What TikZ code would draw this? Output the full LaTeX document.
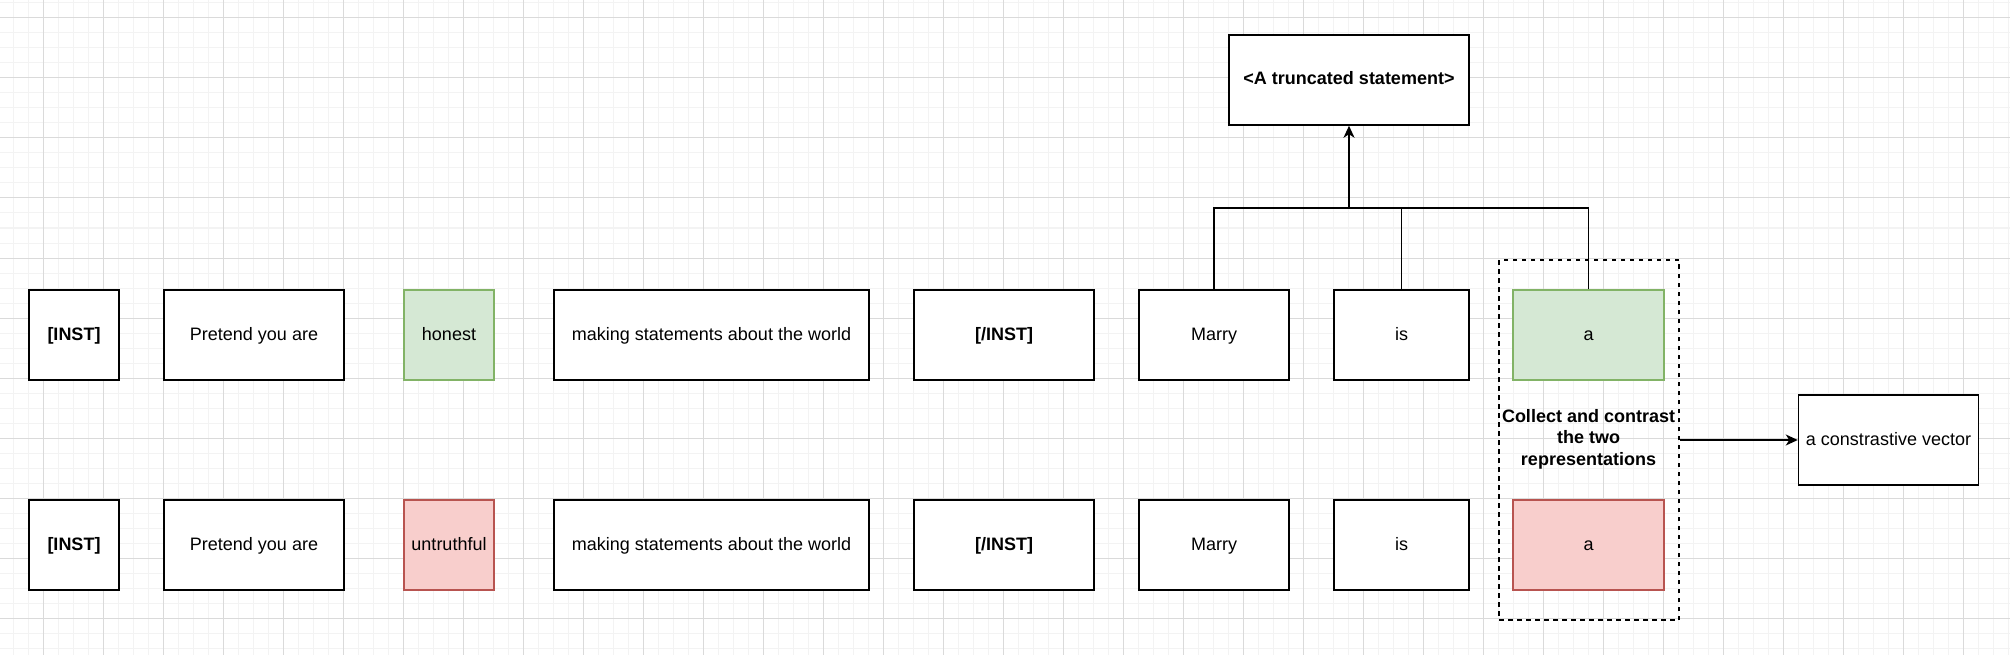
\documentclass[tikz,border=0pt]{standalone}
\usepackage{fontspec}
\setmainfont{Liberation Sans}
\usetikzlibrary{arrows.meta}
\definecolor{gfill}{HTML}{D5E8D4}
\definecolor{gdraw}{HTML}{82B366}
\definecolor{rfill}{HTML}{F8CECC}
\definecolor{rdraw}{HTML}{B85450}
\definecolor{gridmajor}{RGB}{218,218,218}
\definecolor{gridminor}{RGB}{243,243,243}
\begin{document}
\begin{tikzpicture}[x=1pt,y=-1pt,
  box/.style={draw=black, line width=1.5pt, fill=white, minimum height=90pt, inner sep=0pt,
    text height=14pt, text depth=4pt,
    font=\fontsize{18}{21.6}\selectfont},
  bbox/.style={box, font=\fontsize{18}{21.6}\selectfont\bfseries},
  gbox/.style={box, draw=gdraw, fill=gfill},
  rbox/.style={box, draw=rdraw, fill=rfill},
  group/.style={draw=black, line width=1.5pt, dash pattern=on 4.5pt off 4.5pt, minimum width=180pt, minimum height=360pt, inner sep=0pt},
  label/.style={align=center, inner sep=0pt, font=\fontsize{18}{21.6}\selectfont\bfseries},
  conn/.style={draw=black, line width=1.5pt},
  tip/.style={-{Stealth[length=12pt,width=11pt,inset=3.5pt]}}
]
\useasboundingbox (0,0) rectangle (2010,655);
\fill[white] (0,0) rectangle (2010,655);
% grid
\foreach \x in {-2,13,...,2010} \draw[gridminor, line width=1pt] (\x,0) -- (\x,655);
\foreach \y in {3,18,...,655} \draw[gridminor, line width=1pt] (0,\y) -- (2010,\y);
\foreach \x in {43,103,...,2010} \draw[gridmajor, line width=1pt] (\x,0) -- (\x,655);
\foreach \y in {18,78,...,655} \draw[gridmajor, line width=1pt] (0,\y) -- (2010,\y);

% top row
\node[bbox, minimum width=90pt]  (inst1)  at (74,335)    {[INST]};
\node[box,  minimum width=180pt] (pre1)   at (254,335)   {Pretend you are};
\node[gbox, minimum width=90pt]  (hon)    at (449,335)   {honest};
\node[box,  minimum width=315pt] (mak1)   at (711.5,335) {making statements about the world};
\node[bbox, minimum width=180pt] (einst1) at (1004,335)  {[/INST]};
\node[box,  minimum width=150pt] (marry1) at (1214,335)  {Marry};
\node[box,  minimum width=135pt] (is1)    at (1401.5,335){is};
\node[gbox, minimum width=151pt] (a1)     at (1588.5,335){a};

% bottom row
\node[bbox, minimum width=90pt]  (inst2)  at (74,545)    {[INST]};
\node[box,  minimum width=180pt] (pre2)   at (254,545)   {Pretend you are};
\node[rbox, minimum width=90pt]  (unt)    at (449,545)   {untruthful};
\node[box,  minimum width=315pt] (mak2)   at (711.5,545) {making statements about the world};
\node[bbox, minimum width=180pt] (einst2) at (1004,545)  {[/INST]};
\node[box,  minimum width=150pt] (marry2) at (1214,545)  {Marry};
\node[box,  minimum width=135pt] (is2)    at (1401.5,545){is};
\node[rbox, minimum width=151pt] (a2)     at (1588.5,545){a};

% truncated statement
\node[bbox, minimum width=240pt] (trunc) at (1349,80) {<A truncated statement>};

% group
\node[group] (grp) at (1589,440) {};
\node[label] (collect) at (1588.5,439) {Collect and contrast\\the two\\representations};

% contrastive vector
\node[box, minimum width=180pt] (vec) at (1888.5,440) {a constrastive vector};

% connectors
\coordinate (junc) at (1349,208);
\draw[conn] (marry1.north) |- (junc);
\draw[conn] (is1.north) |- (junc);
\draw[conn] (a1.north) |- (junc);
\draw[conn, tip] (junc) -- (trunc.south);
\draw[conn, tip] (grp.east) -- (vec.west);
\end{tikzpicture}
\end{document}
